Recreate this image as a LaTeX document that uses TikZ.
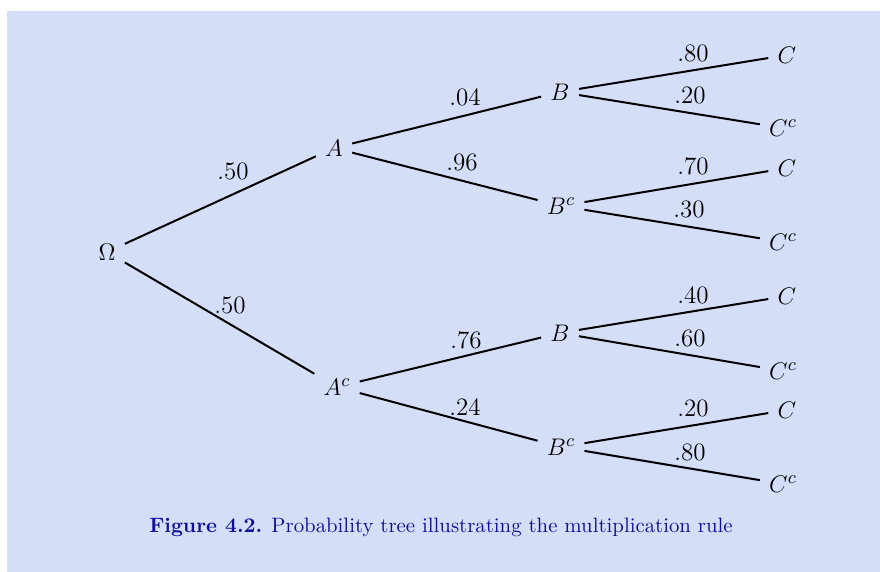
\documentclass[tikz,border=0pt]{standalone}
\usepackage{xcolor}
\definecolor{panelbg}{RGB}{212,222,247}
\definecolor{capblue}{RGB}{16,16,150}
\begin{document}
\begin{tikzpicture}[x=0.5pt,y=-0.5pt,
  vert/.style={inner sep=4.5pt, font=\fontsize{12.5}{15}\selectfont},
  prob/.style={inner sep=0pt, font=\fontsize{12.5}{15}\selectfont},
  branch/.style={line width=1pt, black}]
\useasboundingbox (0,0) rectangle (880,572);
\fill[panelbg] (7,11) rectangle (880,572);
% vertices
\node[vert] (O) at (107,252) {$\Omega$};
\node[vert] (A) at (334,148) {$A$};
\node[vert] (Ac) at (337,387) {$A^c$};
\node[vert] (B1) at (560,92) {$B$};
\node[vert] (Bc1) at (561,206) {$B^c$};
\node[vert] (B2) at (560,333) {$B$};
\node[vert] (Bc2) at (561,447) {$B^c$};
\node[vert] (C1) at (787,55) {$C$};
\node[vert] (Cc1) at (783,128) {$C^c$};
\node[vert] (C2) at (787,168) {$C$};
\node[vert] (Cc2) at (783,242) {$C^c$};
\node[vert] (C3) at (787,296) {$C$};
\node[vert] (Cc3) at (783,371) {$C^c$};
\node[vert] (C4) at (787,410) {$C$};
\node[vert] (Cc4) at (783,484) {$C^c$};
% branches
\draw[branch] (O) -- (A);
\draw[branch] (O) -- (Ac);
\draw[branch] (A) -- (B1);
\draw[branch] (A) -- (Bc1);
\draw[branch] (Ac) -- (B2);
\draw[branch] (Ac) -- (Bc2);
\draw[branch] (B1) -- (C1);
\draw[branch] (B1) -- (Cc1);
\draw[branch] (Bc1) -- (C2);
\draw[branch] (Bc1) -- (Cc2);
\draw[branch] (B2) -- (C3);
\draw[branch] (B2) -- (Cc3);
\draw[branch] (Bc2) -- (C4);
\draw[branch] (Bc2) -- (Cc4);
% probabilities
\node[prob] (pA) at (233,171) {.50};
\node[prob] (pAc) at (230,305) {.50};
\node[prob] (pB1) at (465,97) {.04};
\node[prob] (pBc1) at (462,162) {.96};
\node[prob] (pB2) at (466,340) {.76};
\node[prob] (pBc2) at (465,407) {.24};
\node[prob] (pC1) at (693,53) {.80};
\node[prob] (pCc1) at (690,95) {.20};
\node[prob] (pC2) at (693,166) {.70};
\node[prob] (pCc2) at (689,209) {.30};
\node[prob] (pC3) at (693,295) {.40};
\node[prob] (pCc3) at (690,338) {.60};
\node[prob] (pC4) at (693,408) {.20};
\node[prob] (pCc4) at (690,452) {.80};
% caption
\node[inner sep=0pt, text=capblue, font=\fontsize{10.4}{12}\selectfont] (cap) at (441,527)
  {\textbf{Figure 4.2.} Probability tree illustrating the multiplication rule};
\end{tikzpicture}
\end{document}
